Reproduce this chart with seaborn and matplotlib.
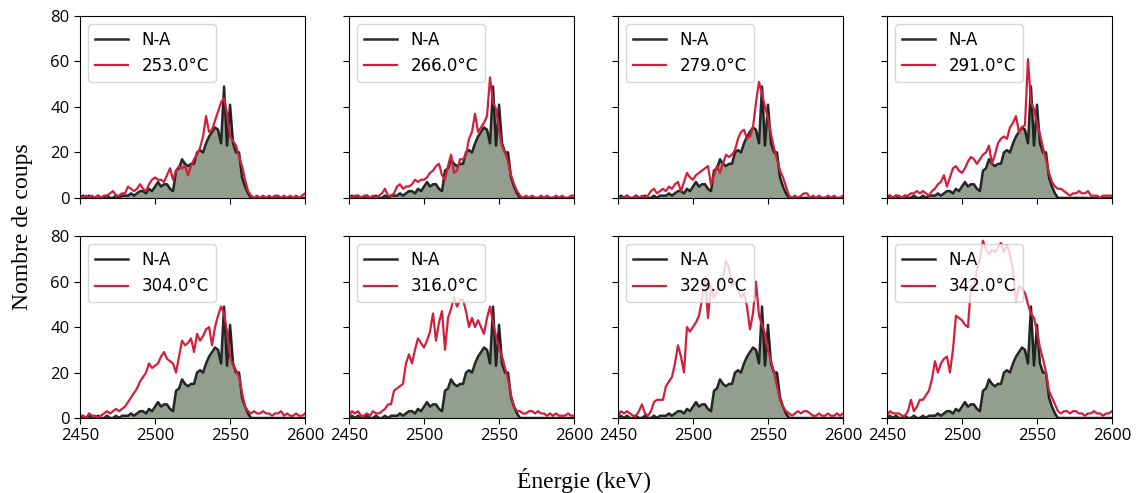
import numpy as np
import pandas as pd
import matplotlib
matplotlib.use("Agg")
import matplotlib.pyplot as plt
import seaborn as sns

energy = list(range(2450, 2601, 2))

na_counts = [0, 1, 0, 1, 0, 0, 1, 0, 0, 1, 0, 0, 1, 0, 1, 1, 1, 2, 1, 2,
             3, 3, 2, 4, 3, 5, 7, 5, 6, 6, 4, 3, 12, 13, 17, 15, 14, 15, 15, 20,
             21, 20, 24, 27, 29, 31, 30, 24, 49, 23, 41, 24, 20, 20, 9, 5, 2, 0, 0, 0,
             0, 0, 0, 0, 0, 0, 0, 0, 0, 0, 0, 0, 0, 0, 0, 0]

temperatures = ["253.0°C", "266.0°C", "279.0°C", "291.0°C",
                "304.0°C", "316.0°C", "329.0°C", "342.0°C"]

t253 = [1, 0, 1, 0, 1, 0, 1, 0, 1, 1, 2, 3, 1, 1, 2, 2, 5, 4, 3, 4,
        6, 4, 3, 6, 8, 9, 8, 8, 7, 10, 13, 8, 12, 14, 13, 14, 10, 14, 17, 19,
        22, 27, 36, 29, 30, 34, 38, 42, 44, 37, 27, 25, 23, 18, 14, 8, 3, 1, 0, 1,
        0, 1, 0, 1, 0, 1, 1, 0, 1, 0, 1, 0, 1, 0, 1, 2]
t266 = [1, 0, 1, 1, 0, 1, 1, 0, 1, 0, 1, 2, 4, 1, 1, 2, 5, 6, 4, 5,
        5, 6, 8, 7, 8, 8, 9, 11, 12, 14, 15, 10, 8, 14, 19, 11, 12, 17, 17, 19,
        26, 29, 37, 29, 31, 33, 36, 53, 42, 39, 30, 23, 20, 16, 10, 6, 3, 1, 0, 1,
        0, 1, 0, 0, 1, 0, 1, 0, 0, 1, 0, 1, 0, 0, 1, 1]
t279 = [1, 0, 0, 1, 0, 0, 1, 0, 1, 0, 1, 3, 4, 2, 3, 4, 3, 5, 4, 6,
        7, 3, 7, 11, 9, 8, 10, 11, 12, 13, 14, 6, 10, 14, 11, 15, 19, 18, 19, 21,
        26, 29, 30, 26, 27, 31, 42, 51, 46, 40, 35, 28, 22, 17, 12, 9, 5, 1, 0, 1,
        0, 1, 2, 2, 0, 1, 0, 1, 0, 0, 1, 0, 1, 0, 0, 1]
t291 = [1, 1, 0, 1, 1, 0, 1, 1, 2, 2, 3, 2, 3, 2, 1, 3, 4, 6, 7, 10,
        5, 9, 13, 14, 12, 11, 13, 16, 18, 17, 15, 17, 19, 20, 23, 15, 19, 24, 26, 27,
        26, 31, 33, 36, 29, 31, 32, 61, 42, 39, 33, 28, 22, 17, 11, 7, 5, 4, 4, 3,
        2, 1, 2, 2, 3, 2, 2, 3, 1, 1, 1, 0, 1, 1, 1, 1]
t304 = [1, 1, 0, 2, 1, 1, 0, 1, 2, 3, 2, 3, 4, 3, 4, 5, 7, 9, 11, 13,
        16, 18, 20, 24, 22, 23, 24, 27, 29, 26, 25, 24, 20, 27, 34, 32, 33, 35, 29, 37,
        34, 36, 39, 40, 32, 40, 45, 49, 46, 38, 27, 23, 21, 18, 11, 5, 3, 2, 3, 2,
        2, 3, 2, 2, 1, 2, 2, 3, 1, 2, 1, 1, 2, 1, 1, 2]
t316 = [1, 3, 2, 3, 1, 1, 2, 1, 3, 2, 2, 3, 4, 6, 6, 12, 13, 14, 15, 24,
        28, 24, 30, 35, 33, 31, 34, 38, 46, 34, 42, 47, 30, 44, 48, 53, 49, 52, 52, 47,
        40, 44, 40, 43, 40, 37, 44, 49, 42, 36, 31, 27, 22, 17, 10, 5, 3, 3, 2, 2,
        3, 3, 2, 3, 2, 2, 1, 2, 1, 2, 1, 1, 1, 2, 1, 1]
t329 = [1, 3, 2, 3, 2, 1, 1, 3, 6, 2, 1, 3, 7, 8, 8, 8, 14, 16, 18, 24,
        32, 27, 20, 40, 38, 40, 42, 45, 52, 62, 44, 58, 53, 55, 61, 62, 69, 66, 58, 60,
        57, 53, 55, 49, 39, 46, 60, 45, 41, 37, 30, 25, 20, 14, 8, 5, 3, 2, 1, 2,
        3, 2, 3, 3, 2, 1, 1, 2, 1, 1, 2, 1, 1, 2, 1, 2]
t342 = [1, 3, 2, 2, 2, 1, 1, 3, 8, 3, 5, 8, 8, 10, 12, 17, 25, 20, 24, 26,
        27, 20, 30, 45, 44, 43, 41, 40, 58, 57, 65, 70, 78, 74, 72, 74, 73, 75, 77, 73,
        76, 72, 65, 51, 58, 57, 55, 50, 46, 44, 38, 31, 26, 20, 12, 9, 6, 3, 2, 3,
        3, 2, 3, 3, 2, 2, 1, 2, 2, 3, 2, 2, 1, 2, 2, 3]

series = [t253, t266, t279, t291, t304, t316, t329, t342]

x_ticks = [2450, 2500, 2550, 2600]
y_ticks = [0, 20, 40, 60, 80]

RED = "#d21f3c"
FILL = "#939e8e"

fig, axes = plt.subplots(2, 4, figsize=(11.37, 4.93), dpi=100,
                         sharex=True, sharey=True)
fig.subplots_adjust(left=80/1137, right=1112/1137, top=1-16/493,
                    bottom=1-418/493, wspace=0.195, hspace=0.21)

df_na = pd.DataFrame({"energy": energy, "counts": na_counts})

for ax, label, vals in zip(axes.flat, temperatures, series):
    ax.fill_between(df_na["energy"], df_na["counts"], 0, color=FILL, lw=0)
    sns.lineplot(data=df_na, x="energy", y="counts", ax=ax, color="#111111",
                 lw=1.8, alpha=0.9, label="N-A")
    df_t = pd.DataFrame({"energy": energy, "counts": vals})
    sns.lineplot(data=df_t, x="energy", y="counts", ax=ax, color=RED,
                 lw=1.6, label=label)
    ax.set_xlim(2450, 2600)
    ax.set_ylim(0, 80)
    ax.set_xticks(x_ticks)
    ax.set_yticks(y_ticks)
    ax.set_xlabel("")
    ax.set_ylabel("")
    ax.tick_params(labelsize=12, length=4)
    for lab in ax.get_xticklabels() + ax.get_yticklabels():
        lab.set_family(["Open Sans", "DejaVu Sans"])
    leg = ax.legend(loc="upper left", fontsize=12, framealpha=0.8,
                    handlelength=2.0, borderaxespad=0.5)
    for t in leg.get_texts():
        t.set_family("DejaVu Sans")

fig.text(0.514, 0.026, "Énergie (keV)", ha="center", va="center",
         family=["Liberation Serif", "DejaVu Serif"], fontsize=17)
fig.text(0.02, 0.54, "Nombre de coups", ha="center", va="center",
         rotation=90, family=["Liberation Serif", "DejaVu Serif"], fontsize=17)

fig.savefig("out.png", dpi=100)
